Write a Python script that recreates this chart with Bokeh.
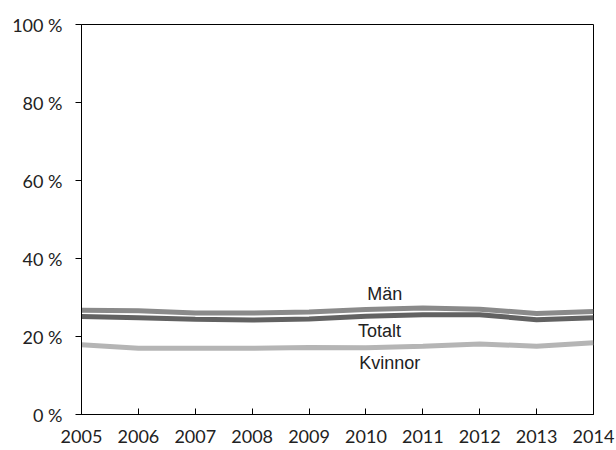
from bokeh.plotting import figure
from bokeh.models import FixedTicker, Range1d
from bokeh.core.properties import value
from bokeh.embed import file_html
from bokeh.resources import INLINE

years = [2005, 2006, 2007, 2008, 2009, 2010, 2011, 2012, 2013, 2014]
man = [26.7, 26.6, 26.0, 26.0, 26.3, 26.9, 27.3, 27.0, 25.9, 26.4]
totalt = [25.1, 24.8, 24.4, 24.2, 24.5, 25.2, 25.6, 25.6, 24.3, 24.8]
kvinnor = [17.9, 17.0, 17.0, 17.0, 17.2, 17.1, 17.5, 18.1, 17.5, 18.4]
y_ticks = [0, 20, 40, 60, 80, 100]
y_tick_labels = ["0 %", "20 %", "40 %", "60 %", "80 %", "100 %"]

label_text = ["Män", "Totalt", "Kvinnor"]
label_x = [2010.33, 2010.24, 2010.42]
label_y = [31.0, 21.5, 13.2]

p = figure(width=616, height=450, output_backend="svg", toolbar_location=None,
           x_range=Range1d(2005, 2014), y_range=Range1d(0, 100),
           min_border_left=81, min_border_right=23, min_border_top=24, min_border_bottom=36)

p.grid.visible = False
p.outline_line_color = "black"
p.outline_line_width = 1

p.line(years, kvinnor, line_color="#b5b5b5", line_width=5)
p.line(years, man, line_color="#8a8a8a", line_width=5)
p.line(years, totalt, line_color="#626262", line_width=5)

p.text(x=label_x, y=label_y, text=label_text, text_align="center", text_baseline="middle",
       text_font=value("Liberation Sans"), text_font_size="18px", text_color="#222222")

p.yaxis.ticker = FixedTicker(ticks=y_ticks)
p.yaxis.major_label_overrides = {t: l for t, l in zip(y_ticks, y_tick_labels)}
p.xaxis.ticker = FixedTicker(ticks=years)
p.xaxis.major_label_overrides = {y: str(y) for y in years}

for ax in (p.xaxis[0], p.yaxis[0]):
    ax.axis_line_color = "black"
    ax.major_tick_line_color = "black"
    ax.minor_tick_line_color = None
    ax.major_label_text_font = "Lato"
    ax.major_label_text_font_size = "18px"
    ax.major_label_text_color = "#222222"

p.yaxis.major_tick_out = 6
p.yaxis.major_tick_in = 0
p.yaxis.major_label_standoff = 13
p.xaxis.major_tick_out = 0
p.xaxis.major_tick_in = 6
p.xaxis.major_label_standoff = 15

open("out.html", "w").write(file_html(p, INLINE))
